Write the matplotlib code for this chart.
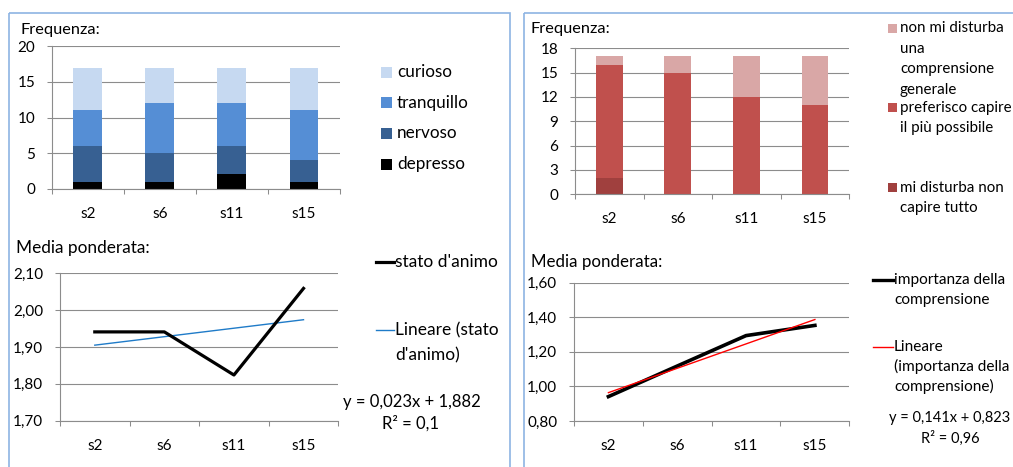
import numpy as np
import matplotlib
matplotlib.use("Agg")
import matplotlib.pyplot as plt
from matplotlib.patches import Rectangle
from matplotlib.lines import Line2D
from matplotlib.ticker import FuncFormatter

plt.rcParams["font.family"] = ["Lato", "DejaVu Sans"]

sessioni = ["s2", "s6", "s11", "s15"]

# stato d'animo: frequenze per sessione
depresso = [1, 1, 2, 1]
nervoso = [5, 4, 4, 3]
tranquillo = [5, 7, 6, 7]
curioso = [6, 5, 5, 6]

media_animo = [1.941, 1.941, 1.824, 2.059]
trend_animo = (0.023, 1.882)  # pendenza, intercetta
r2_animo = "0,1"

# importanza della comprensione: frequenze per sessione
mi_disturba = [2, 0, 0, 0]
preferisco = [14, 15, 12, 11]
non_mi_disturba = [1, 2, 5, 6]

media_compr = [0.941, 1.118, 1.294, 1.353]
trend_compr = (0.141, 0.823)
r2_compr = "0,96"

blu = ["#000000", "#376092", "#558ED5", "#C6D9F1"]
rossi = ["#A0403E", "#C0504D", "#D9A7A6"]
grigio = "#8C8C8C"
cornice = "#8EB4E3"

W, H = 1013, 467
fig = plt.figure(figsize=(W / 100, H / 100), dpi=100)

# livello in pixel per cornici, titoli e legende
ov = fig.add_axes([0, 0, 1, 1])
ov.set_xlim(0, W)
ov.set_ylim(H, 0)
ov.axis("off")


def box(x0, y0, x1, y1):
    return [x0 / W, 1 - y1 / H, (x1 - x0) / W, (y1 - y0) / H]


def virgola(decimali):
    return FuncFormatter(lambda v, p: f"{v:.{decimali}f}".replace(".", ","))


def stile(ax, ymin, ymax, passo, decimali, fs):
    ax.set_facecolor("none")
    ax.set_xlim(-0.5, 3.5)
    ax.set_ylim(ymin, ymax)
    ax.set_yticks(np.arange(ymin, ymax + passo / 2, passo))
    ax.yaxis.set_major_formatter(virgola(decimali))
    ax.set_xticks(range(len(sessioni)))
    ax.set_xticklabels(sessioni)
    ax.set_xticks(np.arange(-0.5, 4, 1), minor=True)
    ax.tick_params(axis="x", which="major", length=0, pad=13, labelsize=fs)
    ax.tick_params(axis="x", which="minor", length=3.6, color=grigio, width=0.75)
    ax.tick_params(axis="y", length=3.6, color=grigio, width=0.75, pad=8.4, labelsize=fs)
    ax.grid(axis="y", color=grigio, lw=0.8)
    ax.set_axisbelow(True)
    for s in ["top", "right"]:
        ax.spines[s].set_visible(False)
    for s in ["left", "bottom"]:
        ax.spines[s].set_color(grigio)
        ax.spines[s].set_linewidth(0.8)


def righe(x, y0, passo, testi, fs, **kw):
    for i, t in enumerate(testi):
        ov.text(x, y0 + i * passo, t, fontsize=fs, va="center", **kw)


# cornici dei due riquadri
ov.add_patch(Rectangle((9, 13), 501, 470, fill=False, ec=cornice, lw=1.2))
ov.add_patch(Rectangle((524, 13), 500, 470, fill=False, ec=cornice, lw=1.2))

x = np.arange(len(sessioni))

# --------- stato d'animo: barre impilate ---------
ax1 = fig.add_axes(box(51.7, 46.3, 340, 188.7))
fondo = np.zeros(4)
for serie, col in zip([depresso, nervoso, tranquillo, curioso], blu):
    ax1.bar(x, serie, bottom=fondo, width=0.4, color=col, lw=0)
    fondo += serie
stile(ax1, 0, 20, 5, 0, 11)
ov.text(20, 30, "Frequenza:", fontsize=11.8, va="center")

voci = ["curioso", "tranquillo", "nervoso", "depresso"]
for i, (t, col) in enumerate(zip(voci, blu[::-1])):
    yc = 72 + i * 30.7
    ov.add_patch(Rectangle((381, yc - 5.5), 11, 11, color=col, lw=0))
    ov.text(397, yc, t, fontsize=12.3, va="center")

# --------- stato d'animo: media ponderata ---------
ax2 = fig.add_axes(box(60, 273.3, 338.3, 420.7))
a, b = trend_animo
ax2.plot(x, [a * (i + 1) + b for i in x], color="#1F7BC8", lw=1.0)
ax2.plot(x, media_animo, color="black", lw=2.3)
stile(ax2, 1.70, 2.10, 0.10, 2, 11)
ov.text(16, 248, "Media ponderata:", fontsize=12.4, va="center")

ov.add_line(Line2D([376, 394], [261.7, 261.7], color="black", lw=2.3))
ov.text(395, 261.7, "stato d'animo", fontsize=12.5, va="center")
ov.add_line(Line2D([376, 394], [330, 330], color="#1F7BC8", lw=1.0))
righe(395, 330, 25, ["Lineare (stato", "d'animo)"], 12.5)
ov.text(412, 401.7, f"y = {a:.3f}x + {b:.3f}".replace(".", ","),
        fontsize=12, va="center", ha="center")
ov.text(410, 423.3, f"R² = {r2_animo}", fontsize=12, va="center", ha="center")

# --------- comprensione: barre impilate ---------
ax3 = fig.add_axes(box(575, 48.3, 849.3, 194.3))
fondo = np.zeros(4)
for serie, col in zip([mi_disturba, preferisco, non_mi_disturba], rossi):
    ax3.bar(x, serie, bottom=fondo, width=0.39, color=col, lw=0)
    fondo += serie
stile(ax3, 0, 18, 3, 0, 11)
ov.text(531, 29, "Frequenza:", fontsize=11.8, va="center")

legenda = [
    (28.3, rossi[2], ["non mi disturba", "una", "comprensione", "generale"]),
    (107.7, rossi[1], ["preferisco capire", "il più possibile"]),
    (187.7, rossi[0], ["mi disturba non", "capire tutto"]),
]
for yc, col, testi in legenda:
    ov.add_patch(Rectangle((887.7, yc - 4.5), 9, 9, color=col, lw=0))
    righe(900, yc, 20.5, testi, 10.9)

# --------- comprensione: media ponderata ---------
ax4 = fig.add_axes(box(574, 282.7, 849.3, 421))
a, b = trend_compr
ax4.plot(x, media_compr, color="black", lw=2.6)
ax4.plot(x, [a * (i + 1) + b for i in x], color="#FF0000", lw=1.0)
stile(ax4, 0.80, 1.60, 0.20, 2, 11)
ov.text(531, 261.7, "Media ponderata:", fontsize=12.2, va="center")

ov.add_line(Line2D([873.3, 893.3], [280, 280], color="black", lw=2.4))
righe(894, 280, 20, ["importanza della", "comprensione"], 11.1)
ov.add_line(Line2D([873.3, 893.3], [346.7, 346.7], color="#FF0000", lw=1.0))
righe(894, 346.7, 19.7, ["Lineare", "(importanza della", "comprensione)"], 11.1)
ov.text(950, 418.3, f"y = {a:.3f}x + {b:.3f}".replace(".", ","),
        fontsize=10.5, va="center", ha="center")
ov.text(950, 438.3, f"R² = {r2_compr}", fontsize=10.5, va="center", ha="center")

fig.savefig("out.png", dpi=100)
